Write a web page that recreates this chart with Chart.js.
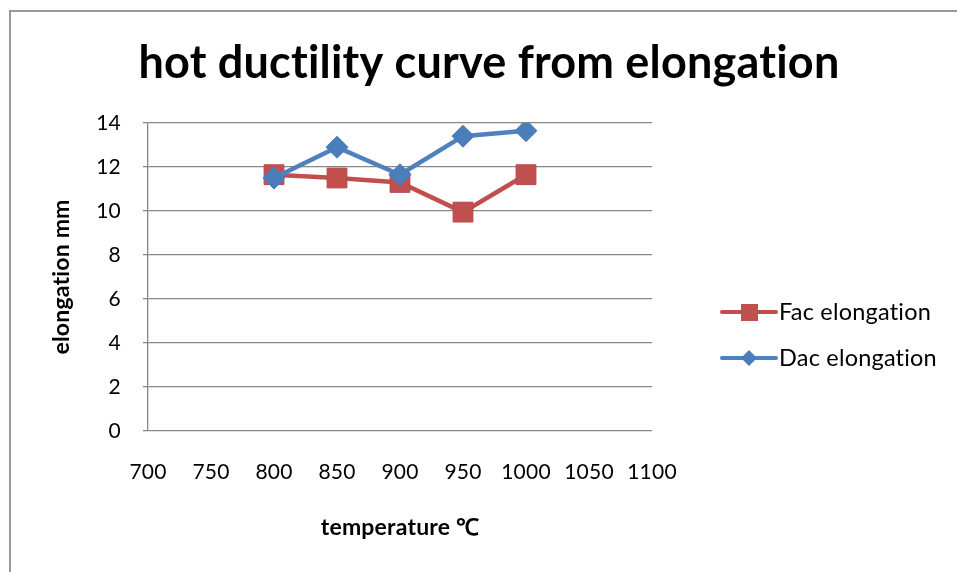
<!DOCTYPE html>
<html>
<head>
<meta charset="utf-8">
<script src="https://cdn.jsdelivr.net/npm/chart.js@4.4.1/dist/chart.umd.min.js"></script>
<style>
  html, body { margin: 0; padding: 0; background: #fff; overflow: hidden; }
  #wrap { position: relative; width: 957px; height: 572px; }
  #frame { position: absolute; left: 9px; top: 10px; width: 1200px; height: 900px; border: 2px solid #9a9a9a; }
  #chart { position: absolute; left: 0; top: 0; }
</style>
</head>
<body>
<div id="wrap">
  <div id="frame"></div>
  <canvas id="chart" width="957" height="572"></canvas>
</div>
<script>
const temperatures = [800, 850, 900, 950, 1000];
const facElongation = [11.65, 11.5, 11.3, 9.95, 11.65];
const dacElongation = [11.5, 12.9, 11.65, 13.4, 13.65];
const xTicks = [700, 750, 800, 850, 900, 950, 1000, 1050, 1100];
const yTicks = [0, 2, 4, 6, 8, 10, 12, 14];
const chartTitle = 'hot ductility curve from elongation';

const FONT = 'Lato, "Open Sans", sans-serif';

const toPoints = vals => temperatures.map((t, i) => ({ x: t, y: vals[i] }));

// small letter spacing keeps Lato from joining "ti" into a ligature
const noLigatures = {
  id: 'noLigatures',
  beforeDraw(chart) { chart.ctx.letterSpacing = '0.2px'; }
};

// centred title across the whole frame, not just the plot
const bigTitle = {
  id: 'bigTitle',
  afterDraw(chart) {
    const ctx = chart.ctx;
    ctx.save();
    ctx.fillStyle = '#000';
    ctx.font = 'bold 45px ' + FONT;
    ctx.textAlign = 'center';
    ctx.textBaseline = 'alphabetic';
    ctx.fillText(chartTitle, 489, 78);
    ctx.restore();
  }
};

// legend on the right: short line with the marker, then the label
const sideLegend = {
  id: 'sideLegend',
  afterDraw(chart) {
    const ctx = chart.ctx;
    const rows = [312, 358];
    chart.data.datasets.forEach((ds, i) => {
      const y = rows[i];
      ctx.save();
      ctx.strokeStyle = ds.borderColor;
      ctx.lineWidth = 4;
      ctx.lineCap = 'round';
      ctx.beginPath();
      ctx.moveTo(722, y);
      ctx.lineTo(776, y);
      ctx.stroke();
      ctx.fillStyle = ds.pointBackgroundColor;
      ctx.beginPath();
      if (ds.pointStyle === 'rect') {
        ctx.rect(741, y - 8, 17, 17);
      } else {
        ctx.moveTo(749, y - 8);
        ctx.lineTo(757, y);
        ctx.lineTo(749, y + 8);
        ctx.lineTo(741, y);
        ctx.closePath();
      }
      ctx.fill();
      ctx.fillStyle = '#000';
      ctx.font = '23.5px ' + FONT;
      ctx.textBaseline = 'middle';
      ctx.textAlign = 'left';
      ctx.fillText(ds.label, 779, y);
      ctx.restore();
    });
  }
};

new Chart(document.getElementById('chart'), {
  type: 'scatter',
  data: {
    datasets: [
      {
        label: 'Fac elongation',
        data: toPoints(facElongation),
        showLine: true,
        borderColor: '#C0504D',
        borderWidth: 4.5,
        pointStyle: 'rect',
        pointRadius: 14,
        pointBackgroundColor: '#C0504D',
        pointBorderColor: '#B9474A',
        pointBorderWidth: 1,
        order: 1
      },
      {
        label: 'Dac elongation',
        data: toPoints(dacElongation),
        showLine: true,
        borderColor: '#4F81BD',
        borderWidth: 4.5,
        pointStyle: 'rectRot',
        pointRadius: 11,
        pointBackgroundColor: '#4A7EBB',
        pointBorderColor: '#4A7EBB',
        pointBorderWidth: 1,
        order: 0
      }
    ]
  },
  options: {
    responsive: false,
    animation: false,
    layout: { padding: { left: 10, right: 305, top: 123, bottom: 0 } },
    plugins: {
      legend: { display: false },
      tooltip: { enabled: false },
      title: { display: false }
    },
    scales: {
      x: {
        type: 'linear',
        min: 700,
        max: 1100,
        afterBuildTicks: s => { s.ticks = xTicks.map(v => ({ value: v })); },
        afterFit: s => { s.height = 141; },
        grid: { display: false, drawTicks: false },
        border: { display: false },
        ticks: { color: '#000', padding: 29, font: { family: FONT, size: 21 }, callback: v => String(v) },
        title: {
          display: true,
          text: 'temperature ℃',
          color: '#000',
          font: { family: FONT, size: 23, weight: 'bold', lineHeight: 1.2 },
          padding: { bottom: 31 }
        }
      },
      y: {
        min: 0,
        max: 14,
        afterBuildTicks: s => { s.ticks = yTicks.map(v => ({ value: v })); },
        afterFit: s => { s.width = 138; },
        grid: { color: '#878787', lineWidth: 1.3, tickLength: 5 },
        border: { display: true, color: '#878787', width: 1.3 },
        ticks: { color: '#000', padding: 22, font: { family: FONT, size: 21 }, callback: v => String(v) },
        title: {
          display: true,
          text: 'elongation mm',
          color: '#000',
          font: { family: FONT, size: 23, weight: 'bold', lineHeight: 1.2 },
          padding: { top: 38 }
        }
      }
    }
  },
  plugins: [noLigatures, bigTitle, sideLegend]
});
</script>
</body>
</html>
